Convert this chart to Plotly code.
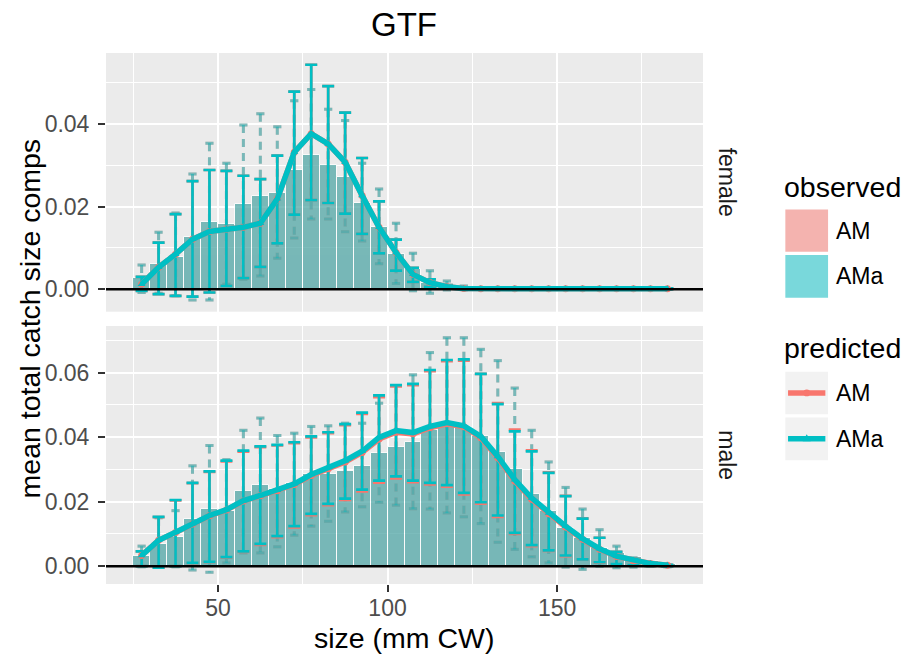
import plotly.graph_objects as go
from plotly.subplots import make_subplots

# size bins (mm CW), bin midpoints
sizes = [27.5, 32.5, 37.5, 42.5, 47.5, 52.5, 57.5, 62.5, 67.5, 72.5, 77.5, 82.5,
         87.5, 92.5, 97.5, 102.5, 107.5, 112.5, 117.5, 122.5, 127.5, 132.5, 137.5,
         142.5, 147.5, 152.5, 157.5, 162.5, 167.5, 172.5, 177.5, 182.5]

# ---- female ----
f_obs = [0.0027, 0.0062, 0.0079, 0.0127, 0.0164, 0.0159, 0.0207, 0.0227, 0.0234, 0.0290,
         0.0326, 0.0302, 0.0273, 0.0210, 0.0152, 0.0086, 0.0048, 0.0016, 0.0006, 0.0002,
         0, 0, 0, 0, 0, 0, 0, 0, 0, 0, 0, 0]
f_obs_hi = [0.0059, 0.0138, 0.0185, 0.0279, 0.0354, 0.0305, 0.0398, 0.0425, 0.0394, 0.0457,
            0.0484, 0.0436, 0.0409, 0.0305, 0.0243, 0.0160, 0.0087, 0.0045, 0.0020, 0.0008,
            0, 0, 0, 0, 0, 0, 0, 0, 0, 0, 0, 0]
f_obs_lo = [-0.0008, -0.0010, -0.0016, -0.0026, -0.0026, 0.0012, 0.0024, 0.0032, 0.0075, 0.0124,
            0.0170, 0.0170, 0.0139, 0.0117, 0.0062, 0.0014, -0.0004, -0.0010, -0.0002, -0.0001,
            0, 0, 0, 0, 0, 0, 0, 0, 0, 0, 0, 0]
f_pred_ama = [0.0012, 0.0053, 0.0085, 0.0121, 0.0140, 0.0146, 0.0150, 0.0160, 0.0219, 0.0332,
              0.0377, 0.0352, 0.0308, 0.0227, 0.0150, 0.0089, 0.0036, 0.0016, 0.0006, 0.0002,
              0.0001, 0.0001, 0.0001, 0.0001, 0.0001, 0.0001, 0.0001, 0.0001, 0.0001, 0.0001,
              0.0001, 0.0001]
f_hi_ama = [0.0030, 0.0113, 0.0182, 0.0262, 0.0289, 0.0287, 0.0275, 0.0267, 0.0324, 0.0479,
            0.0544, 0.0492, 0.0428, 0.0318, 0.0213, 0.0120, 0.0052, 0.0024, 0.0010, 0.0004,
            0.0002, 0.0002, 0.0002, 0.0002, 0.0002, 0.0002, 0.0002, 0.0002, 0.0002, 0.0002,
            0.0002, 0.0002]
f_lo_ama = [-0.0004, -0.0012, -0.0016, -0.0018, -0.0008, 0.0008, 0.0027, 0.0054, 0.0111, 0.0181,
            0.0216, 0.0209, 0.0183, 0.0134, 0.0087, 0.0045, 0.0018, 0.0006, 0.0002, 0.0000,
            0, 0, 0, 0, 0, 0, 0, 0, 0, 0, 0, 0]
# AM predictions are indistinguishable from AMa in the female panel
f_pred_am = list(f_pred_ama)
f_hi_am = list(f_hi_ama)
f_lo_am = list(f_lo_ama)

# ---- male ----
m_obs = [0.0031, 0.0070, 0.0090, 0.0147, 0.0178, 0.0172, 0.0234, 0.0250, 0.0238, 0.0258,
         0.0286, 0.0287, 0.0296, 0.0311, 0.0352, 0.0368, 0.0386, 0.0421, 0.0438, 0.0430,
         0.0402, 0.0355, 0.0302, 0.0225, 0.0170, 0.0119, 0.0088, 0.0057, 0.0041, 0.0028,
         0.0015, 0.0008]
m_obs_hi = [0.0062, 0.0150, 0.0172, 0.0311, 0.0374, 0.0330, 0.0421, 0.0459, 0.0405, 0.0412,
            0.0433, 0.0435, 0.0443, 0.0443, 0.0505, 0.0560, 0.0593, 0.0662, 0.0708, 0.0708,
            0.0672, 0.0637, 0.0552, 0.0421, 0.0323, 0.0244, 0.0177, 0.0113, 0.0062, 0.0026,
            0.0012, 0.0005]
m_obs_lo = [-0.0002, -0.0004, -0.0002, -0.0012, -0.0019, 0.0010, 0.0041, 0.0041, 0.0060, 0.0096,
            0.0124, 0.0139, 0.0168, 0.0184, 0.0198, 0.0189, 0.0178, 0.0177, 0.0165, 0.0153,
            0.0132, 0.0074, 0.0052, 0.0029, 0.0010, -0.0003, -0.0010, 0.0000, -0.0005, -0.0003,
            0.0000, -0.0002]
m_pred_ama = [0.0033, 0.0080, 0.0105, 0.0132, 0.0157, 0.0175, 0.0203, 0.0219, 0.0235, 0.0255,
              0.0284, 0.0306, 0.0327, 0.0356, 0.0399, 0.0420, 0.0414, 0.0433, 0.0445, 0.0435,
              0.0402, 0.0340, 0.0268, 0.0211, 0.0165, 0.0124, 0.0085, 0.0054, 0.0031, 0.0018,
              0.0008, 0.0003]
m_hi_ama = [0.0046, 0.0153, 0.0205, 0.0258, 0.0294, 0.0327, 0.0358, 0.0371, 0.0376, 0.0384,
            0.0402, 0.0415, 0.0440, 0.0476, 0.0529, 0.0561, 0.0565, 0.0608, 0.0639, 0.0641,
            0.0596, 0.0502, 0.0418, 0.0356, 0.0289, 0.0217, 0.0147, 0.0088, 0.0044, 0.0022,
            0.0010, 0.0004]
m_lo_ama = [0.0000, -0.0005, 0.0000, 0.0010, 0.0013, 0.0028, 0.0046, 0.0069, 0.0093, 0.0124,
            0.0162, 0.0193, 0.0209, 0.0237, 0.0265, 0.0278, 0.0265, 0.0258, 0.0251, 0.0227,
            0.0198, 0.0157, 0.0103, 0.0065, 0.0049, 0.0033, 0.0021, 0.0012, 0.0006, 0.0003,
            0.0001, 0.0000]
m_pred_am = [0.0033, 0.0080, 0.0104, 0.0131, 0.0156, 0.0174, 0.0202, 0.0218, 0.0234, 0.0253,
             0.0281, 0.0302, 0.0323, 0.0352, 0.0394, 0.0415, 0.0410, 0.0429, 0.0441, 0.0432,
             0.0398, 0.0336, 0.0264, 0.0207, 0.0162, 0.0121, 0.0083, 0.0052, 0.0030, 0.0017,
             0.0008, 0.0003]
m_hi_am = [0.0046, 0.0152, 0.0204, 0.0257, 0.0292, 0.0325, 0.0355, 0.0369, 0.0374, 0.0381,
           0.0399, 0.0412, 0.0437, 0.0472, 0.0524, 0.0557, 0.0561, 0.0604, 0.0635, 0.0637,
           0.0596, 0.0505, 0.0423, 0.0359, 0.0291, 0.0218, 0.0148, 0.0088, 0.0044, 0.0022,
           0.0010, 0.0004]
m_lo_am = [0.0000, -0.0005, 0.0000, 0.0009, 0.0012, 0.0026, 0.0044, 0.0066, 0.0090, 0.0120,
           0.0158, 0.0189, 0.0205, 0.0232, 0.0259, 0.0272, 0.0260, 0.0253, 0.0246, 0.0222,
           0.0194, 0.0153, 0.0100, 0.0062, 0.0047, 0.0031, 0.0020, 0.0011, 0.0005, 0.0003,
           0.0001, 0.0000]

FONT = "Liberation Sans, Arial, Helvetica, sans-serif"
AM_COL = "#F8766D"
AMA_COL = "#00BFC4"
AM_RGBA = "rgba(248,118,109,0.5)"
AMA_RGBA = "rgba(0,191,196,0.5)"

# panel box in pixels
L, R, T, B = 106, 702.7, 52.7, 584.3


def px(x):
    return (x - L) / (R - L)


def py(y):
    return (B - y) / (B - T)


def padded(*series):
    lo = min(min(s) for s in series)
    hi = max(max(s) for s in series)
    pad = 0.05 * (hi - lo)
    return [lo - pad, hi + pad]


def label(x, y, text, size, xanchor="center", angle=0, color="black"):
    return dict(xref="paper", yref="paper", x=px(x), y=py(y), text=text,
                xanchor=xanchor, yanchor="middle", textangle=angle, showarrow=False,
                font=dict(family=FONT, size=size, color=color))


fig = make_subplots(rows=2, cols=1, shared_xaxes=True)


def add_panel(row, obs, obs_lo, obs_hi, am, am_lo, am_hi, ama, ama_lo, ama_hi):
    # observed bars (AM and AMa overlap)
    for col in (AM_COL, AMA_COL):
        fig.add_trace(go.Bar(x=sizes, y=obs, width=5, opacity=0.5,
                             marker=dict(color=col, line=dict(color="white", width=1))),
                      row=row, col=1)
    # observed intervals, dashed
    for rgba in (AM_RGBA, AMA_RGBA):
        xs, ys, cx, cy = [], [], [], []
        for x, lo, hi in zip(sizes, obs_lo, obs_hi):
            xs += [x, x, None]
            ys += [hi, lo, None]
            cx += [x - 1.2, x + 1.2, None, x - 1.2, x + 1.2, None]
            cy += [hi, hi, None, lo, lo, None]
        fig.add_trace(go.Scatter(x=xs, y=ys, mode="lines",
                                 line=dict(color=rgba, width=3, dash="8px,6px")),
                      row=row, col=1)
        fig.add_trace(go.Scatter(x=cx, y=cy, mode="lines",
                                 line=dict(color=rgba, width=3)),
                      row=row, col=1)
    # predicted intervals
    for pred, lo, hi, col in ((am, am_lo, am_hi, AM_COL), (ama, ama_lo, ama_hi, AMA_COL)):
        fig.add_trace(go.Scatter(
            x=sizes, y=pred, mode="markers", marker=dict(size=2, opacity=0),
            error_y=dict(type="data", symmetric=False,
                         array=[h - p for h, p in zip(hi, pred)],
                         arrayminus=[p - l for p, l in zip(pred, lo)],
                         color=col, thickness=2.7, width=6)),
            row=row, col=1)
    # predicted lines
    for pred, col, sym in ((am, AM_COL, "circle"), (ama, AMA_COL, "triangle-up")):
        fig.add_trace(go.Scatter(x=sizes, y=pred, mode="lines+markers",
                                 line=dict(color=col, width=5.5),
                                 marker=dict(symbol=sym, size=7, color=col)),
                      row=row, col=1)
    fig.add_hline(y=0, row=row, col=1, line=dict(color="black", width=2.5), layer="above")


add_panel(1, f_obs, f_obs_lo, f_obs_hi, f_pred_am, f_lo_am, f_hi_am,
          f_pred_ama, f_lo_ama, f_hi_ama)
add_panel(2, m_obs, m_obs_lo, m_obs_hi, m_pred_am, m_lo_am, m_hi_am,
          m_pred_ama, m_lo_ama, m_hi_ama)

xr = padded([sizes[0] - 2.5, sizes[-1] + 2.5])
axis_common = dict(showgrid=True, gridcolor="white", gridwidth=2, zeroline=False,
                   showline=False, tickfont=dict(family=FONT, size=23, color="#4D4D4D"),
                   tickcolor="#333333", ticklen=7, tickwidth=2)
fig.update_xaxes(range=xr, tick0=0, dtick=50,
                 minor=dict(tick0=0, dtick=25, showgrid=True, gridcolor="white", gridwidth=1),
                 **axis_common)
fig.update_xaxes(ticks="", showticklabels=False, row=1, col=1)
fig.update_xaxes(ticks="outside", showticklabels=True, ticklabelstandoff=-4, row=2, col=1)
fig.update_yaxes(tick0=0, dtick=0.02, tickformat=".2f", ticks="outside", ticklabelstandoff=4,
                 minor=dict(tick0=0, dtick=0.01, showgrid=True, gridcolor="white", gridwidth=1),
                 **axis_common)
fig.update_yaxes(range=padded(f_obs, f_obs_lo, f_obs_hi, f_lo_ama, f_hi_ama),
                 domain=[py(311.7), 1], row=1, col=1)
fig.update_yaxes(range=padded(m_obs, m_obs_lo, m_obs_hi, m_lo_ama, m_hi_ama, m_lo_am, m_hi_am),
                 domain=[0, py(326)], row=2, col=1)

shapes = []
annotations = []
# facet strips
for y0, y1, text in ((311.7, T, "female"), (B, 326, "male")):
    shapes.append(dict(type="rect", xref="paper", yref="paper", x0=1, x1=px(750),
                       y0=py(y0), y1=py(y1), fillcolor="#D9D9D9", line=dict(width=0),
                       layer="below"))
    annotations.append(label(726.4, (y0 + y1) / 2, text, 23, angle=90, color="#1A1A1A"))

# titles
annotations.append(label(404.3, 24, "GTF", 33))
annotations.append(label(404.3, 638, "size (mm CW)", 28.5))
annotations.append(label(30, 318.5, "mean total catch size comps", 28.5, angle=-90))

# legend (drawn by hand, ggplot style)
KX0, KX1 = 785, 827.7
annotations.append(label(782, 187, "observed", 28.5, xanchor="left"))
for (y0, y1, fill, text) in ((209.3, 251.7, "#F4B3AF", "AM"), (255, 297.7, "#79D8DB", "AMa")):
    shapes.append(dict(type="rect", xref="paper", yref="paper", x0=px(KX0), x1=px(KX1),
                       y0=py(y1), y1=py(y0), fillcolor=fill, line=dict(width=0)))
    annotations.append(label(834, (y0 + y1) / 2, text, 23, xanchor="left"))
annotations.append(label(782, 348, "predicted", 28.5, xanchor="left"))
for (y0, y1, col, text, sym) in ((371.7, 414.3, AM_COL, "AM", "circle"),
                                 (417.7, 460.3, AMA_COL, "AMa", "triangle")):
    yc = (y0 + y1) / 2
    shapes.append(dict(type="rect", xref="paper", yref="paper", x0=px(KX0), x1=px(KX1),
                       y0=py(y1), y1=py(y0), fillcolor="#F2F2F2", line=dict(width=0)))
    shapes.append(dict(type="line", xref="paper", yref="paper", x0=px(787.7), x1=px(825),
                       y0=py(yc), y1=py(yc), line=dict(color=col, width=5.5)))
    if sym == "circle":
        shapes.append(dict(type="circle", xref="paper", yref="paper",
                           x0=px(803), x1=px(809.8), y0=py(yc + 3.4), y1=py(yc - 3.4),
                           fillcolor=col, line=dict(width=0)))
    else:
        shapes.append(dict(type="path", xref="paper", yref="paper",
                           path="M {} {} L {} {} L {} {} Z".format(
                               px(802.4), py(yc + 2.5), px(810.4), py(yc + 2.5),
                               px(806.4), py(yc - 4.5)),
                           fillcolor=col, line=dict(width=0)))
    annotations.append(label(834, yc, text, 23, xanchor="left"))

fig.update_layout(
    width=907, height=658,
    margin=dict(l=L, r=907 - R, t=T, b=658 - B),
    paper_bgcolor="white", plot_bgcolor="#EBEBEB",
    barmode="overlay", bargap=0, showlegend=False,
    shapes=shapes, annotations=annotations,
    font=dict(family=FONT),
)

fig.write_html("out.html", config={"displayModeBar": False},
               post_script="document.body.style.margin = '0';")
